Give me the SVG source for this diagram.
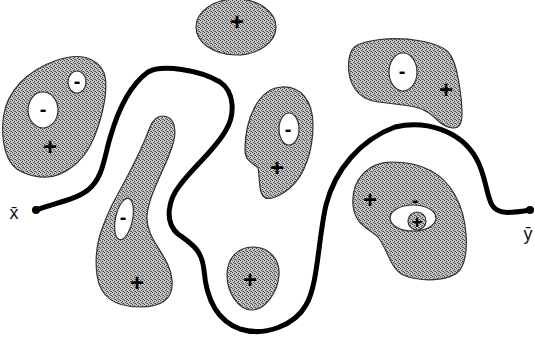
<svg xmlns="http://www.w3.org/2000/svg" width="535" height="341" viewBox="0 0 535 341">
<style>
.blob{fill:url(#dither);stroke:#333;stroke-width:1.2}
.hole{fill:#fff;stroke:#333;stroke-width:1.2}
.s{font-family:"Liberation Sans",Arial,sans-serif;font-weight:bold;fill:#000;text-anchor:middle}
.p{font-size:24px}
.m{font-size:20px}
.lbl{font-family:"Liberation Sans",Arial,sans-serif;font-size:18px;fill:#111;text-anchor:middle}
.path{fill:none;stroke:#000;stroke-width:5;stroke-linecap:round;stroke-linejoin:round}
</style>
<defs>
<pattern id="dither" width="4" height="4" patternUnits="userSpaceOnUse">
<rect width="4" height="4" fill="#c4c4c4"/>
<rect x="0" y="0" width="1" height="1" fill="#444"/>
<rect x="2" y="1" width="1" height="1" fill="#444"/>
<rect x="1" y="2" width="1" height="1" fill="#555"/>
<rect x="3" y="3" width="1" height="1" fill="#444"/>
<rect x="2" y="3" width="1" height="1" fill="#777"/>
</pattern>
</defs>
<rect width="535" height="341" fill="#fff"/>

<g id="blob-topleft">
<path class="blob" d="M91,59.5 Q104,66 105.5,79 Q107,92 102.5,111 Q98,130 91,144 Q84,158 72,167 Q60,176 48,177 Q36,178 23,172.5 Q10,167 5.5,151 Q1,135 3.5,116.5 Q6,98 20,83 Q34,68 56,60.5 Q78,53 91,59.5 Z"/>
<ellipse class="hole" cx="77" cy="82" rx="9" ry="11"/>
<ellipse class="hole" cx="43" cy="110" rx="15" ry="18"/>
<text class="s m" x="77" y="87.5">-</text>
<text class="s m" x="43" y="115.5">-</text>
<text class="s p" x="50" y="155">+</text>
</g>

<g id="blob-top">
<ellipse class="blob" cx="236" cy="27" rx="40" ry="28"/>
<text class="s p" x="237" y="30">+</text>
</g>

<g id="blob-topright">
<path class="blob" d="M380,39.5 Q400,37 421,41 Q442,45 448.5,52.5 Q455,60 458.5,80 Q462,100 462,114 Q462,128 453.5,128 Q445,128 435,118 Q425,108 410,106 Q395,104 378.5,102 Q362,100 355,89 Q348,78 348.5,65 Q349,52 354.5,47 Q360,42 380,39.5 Z"/>
<ellipse class="hole" cx="403" cy="72" rx="14" ry="19"/>
<text class="s m" x="402" y="77.5">-</text>
<text class="s p" x="446" y="98">+</text>
</g>

<g id="blob-center">
<path class="blob" d="M282,87 C300,86 313,100 313,125 C313,150 305,175 290,188 C280,196 268,202 263,196 C258,190 260,175 258,168 C254,163 245,162 245,150 C245,120 258,88 282,87 Z"/>
<ellipse class="hole" cx="289" cy="129" rx="10" ry="16"/>
<text class="s m" x="288" y="135.5">-</text>
<text class="s p" x="277" y="176">+</text>
</g>

<g id="blob-long">
<path class="blob" d="M163,116 C172,116 177,125 174,140 C168,165 150,190 147,215 C145,240 170,255 172,280 C174,300 160,307 140,307 C115,307 100,298 97,275 C93,245 103,225 112,205 C125,180 138,160 150,127 C153,119 158,116 163,116 Z"/>
<ellipse class="hole" cx="124" cy="219" rx="8.5" ry="21" transform="rotate(12 124 219)"/>
<text class="s m" x="123" y="223.5">-</text>
<text class="s p" x="137" y="291">+</text>
</g>

<g id="blob-small">
<path class="blob" d="M253,247 C270,247 280,260 279,275 C278,292 265,310 252,310 C238,310 227,292 227,275 C227,258 238,247 253,247 Z"/>
<text class="s p" x="250" y="288">+</text>
</g>

<g id="blob-lowright">
<path class="blob" d="M392,162 C415,162 440,168 455,195 C468,218 470,255 460,270 C450,282 420,282 403,275 C390,268 388,250 378,237 C368,228 355,225 353,205 C351,180 368,162 392,162 Z"/>
<ellipse class="hole" cx="413" cy="218" rx="23" ry="13"/>
<circle class="blob" cx="417" cy="221" r="9"/>
<text class="s" style="font-size:19px" x="417" y="227.5">+</text>
<text class="s m" x="415" y="207">-</text>
<text class="s p" x="370" y="208">+</text>
</g>

<g id="connectors">
<path class="path" d="M36,210 C55,203 75,200 88,190 C103,178 104,158 110,138 C118,110 130,85 148,72 C162,64 200,70 220,82 C235,92 235,115 226,130 C215,150 195,165 180,185 C168,200 164,222 178,234 C192,244 202,250 204,270 C206,295 215,320 240,329 C265,337 295,325 306,305 C318,285 318,240 326,205 C335,170 360,140 395,127 C425,120 460,130 476,158 C486,175 486,195 492,205 C498,215 510,213 530,210"/>
<circle cx="36" cy="210" r="4" fill="#000"/>
<circle cx="530" cy="210" r="4" fill="#000"/>
</g>

<g id="labels">
<text class="lbl" x="14" y="219">x̄</text>
<text class="lbl" x="528" y="240">ȳ</text>
</g>
</svg>
